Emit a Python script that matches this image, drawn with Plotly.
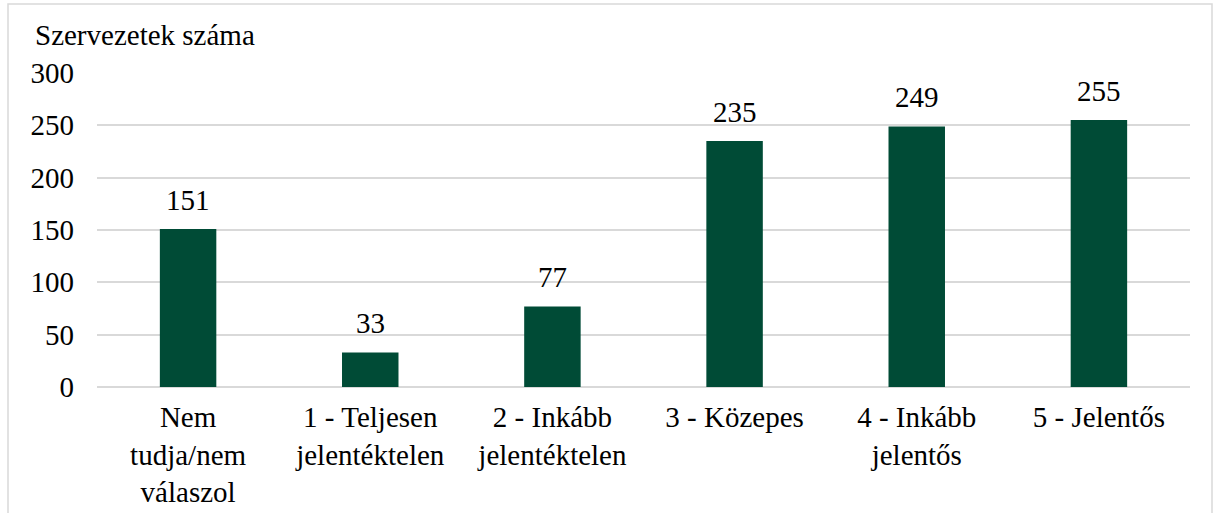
import plotly.graph_objects as go

categories = ["Nem<br>tudja/nem<br>válaszol", "1 - Teljesen<br>jelentéktelen", "2 - Inkább<br>jelentéktelen",
              "3 - Közepes", "4 - Inkább<br>jelentős", "5 - Jelentős"]
values = [151, 33, 77, 235, 249, 255]
y_ticks = [0, 50, 100, 150, 200, 250, 300]

W, H = 1214, 513
L, R, T, B = 97, 24, 73, 126
pw, ph = W - L - R, H - T - B

font = "Liberation Serif, Times New Roman, serif"
FS = 29

fig = go.Figure(go.Bar(
    x=categories, y=values,
    marker=dict(color="#004B36", line=dict(width=0)),
    hoverinfo="x+y",
))

annotations = [dict(text="Szervezetek száma", xref="paper", yref="paper",
                    x=(33 - L) / pw, y=(T - 35) / ph + 1, xanchor="left", yanchor="middle",
                    showarrow=False, font=dict(size=FS, family=font))]
for c, v in zip(categories, values):
    annotations.append(dict(x=c, y=v, text=str(v), xref="x", yref="y", showarrow=False,
                            yanchor="bottom", yshift=11, font=dict(size=FS, family=font, color="#000000")))

fig.update_layout(
    width=W, height=H,
    margin=dict(l=L, r=R, t=T, b=B, autoexpand=False),
    plot_bgcolor="white", paper_bgcolor="white",
    bargap=0.69, showlegend=False,
    font=dict(family=font, size=FS, color="#000000"),
    xaxis=dict(showgrid=False, showline=False, ticks="", tickfont=dict(size=FS, family=font),
               ticklabelstandoff=10),
    yaxis=dict(range=[0, 300], tickvals=y_ticks, showgrid=True, gridcolor="#D9D9D9", gridwidth=1.5,
               zeroline=True, zerolinecolor="#D9D9D9", zerolinewidth=1.5, showline=False,
               ticks="", tickfont=dict(size=FS, family=font), ticklabelstandoff=22),
    annotations=annotations,
    shapes=[dict(type="rect", xref="paper", yref="paper",
                 x0=(8 - L) / pw, x1=(1212 - L) / pw, y0=(T + ph - 520) / ph, y1=(T + ph - 4) / ph,
                 line=dict(color="#D9D9D9", width=1.5), fillcolor="rgba(0,0,0,0)", layer="below")],
)

fig.write_html("out.html", config={"displayModeBar": False},
               post_script="document.body.style.margin='0';document.body.style.overflow='hidden';")
